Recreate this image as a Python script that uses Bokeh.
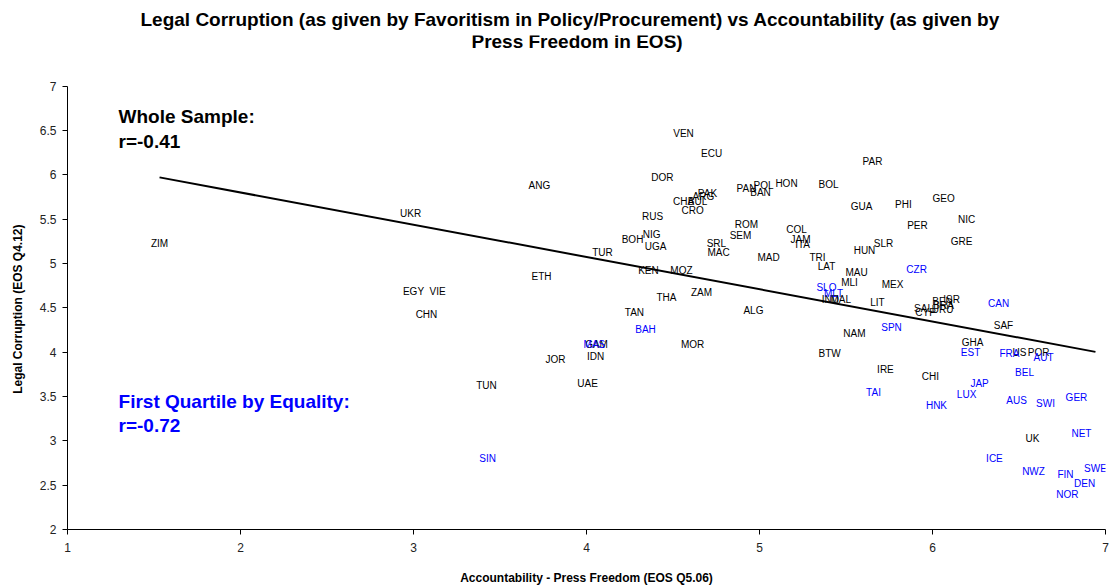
import numpy as np
from bokeh.plotting import figure
from bokeh.models import ColumnDataSource, Label, FixedTicker
from bokeh.core.properties import value
from bokeh.embed import file_html
from bokeh.resources import INLINE

# Black labels (whole sample)
codes_black = ["VEN", "ECU", "DOR", "ANG", "PAR", "HON", "BOL", "POL", "PAN", "BAN",
               "PAK", "ARG", "CHA", "BUL", "CRO", "GEO", "PHI", "GUA", "RUS", "NIC",
               "ROM", "PER", "COL", "NIG", "SEM", "UKR", "ZIM", "JAM", "ITA", "SRL",
               "BOH", "UGA", "GRE", "SLR", "HUN", "MAC", "TUR", "MAD", "TRI", "LAT",
               "KEN", "MOZ", "MAU", "ETH", "MLI", "MEX", "ZAM", "EGY", "VIE", "THA",
               "ALG", "TAN", "CHN", "IND", "MAL", "LIT", "SAL", "CYP", "ISR", "BEN",
               "BRA", "URU", "SAF", "NAM", "GHA", "GAM", "MOR", "US", "POR", "BTW",
               "IDN", "JOR", "IRE", "CHI", "TUN", "UAE", "UK"]
press_black = [4.561, 4.723, 4.439, 3.728, 5.653, 5.156, 5.399, 5.023, 4.925, 5.006,
               4.699, 4.676, 4.561, 4.642, 4.613, 6.064, 5.832, 5.590, 4.382, 6.197,
               4.925, 5.913, 5.214, 4.376, 4.890, 2.983, 1.532, 5.237, 5.249, 4.751,
               4.266, 4.399, 6.168, 5.717, 5.607, 4.763, 4.092, 5.052, 5.335, 5.387,
               4.358, 4.549, 5.561, 3.740, 5.520, 5.769, 4.665, 3.000, 3.139, 4.462,
               4.965, 4.277, 3.075, 5.410, 5.470, 5.682, 5.948, 5.960, 6.110, 6.058,
               6.064, 6.058, 6.410, 5.549, 6.231, 4.058, 4.613, 6.503, 6.613, 5.405,
               4.052, 3.821, 5.728, 5.988, 3.422, 4.006, 6.578]
corr_black = [6.471, 6.245, 5.975, 5.885, 6.155, 5.908, 5.896, 5.885, 5.851, 5.806,
              5.795, 5.761, 5.705, 5.705, 5.604, 5.739, 5.671, 5.649, 5.536, 5.502,
              5.446, 5.435, 5.390, 5.333, 5.322, 5.570, 5.232, 5.277, 5.221, 5.232,
              5.277, 5.198, 5.255, 5.232, 5.153, 5.131, 5.131, 5.074, 5.074, 4.973,
              4.928, 4.917, 4.905, 4.860, 4.782, 4.770, 4.669, 4.680, 4.680, 4.613,
              4.466, 4.444, 4.421, 4.590, 4.590, 4.556, 4.489, 4.444, 4.590, 4.570,
              4.530, 4.480, 4.297, 4.207, 4.106, 4.083, 4.083, 3.993, 3.993, 3.982,
              3.948, 3.914, 3.802, 3.723, 3.622, 3.644, 3.025]

# Blue labels (first quartile by equality)
codes_blue = ["CZR", "SLO", "MLT", "CAN", "SPN", "BAH", "MAS", "EST", "FRA", "AUT",
              "BEL", "JAP", "LUX", "TAI", "HNK", "AUS", "SWI", "GER", "NET", "ICE",
              "SIN", "NWZ", "FIN", "SWE", "DEN", "NOR"]
press_blue = [5.908, 5.387, 5.428, 6.382, 5.763, 4.341, 4.046, 6.220, 6.445, 6.642,
              6.532, 6.272, 6.197, 5.659, 6.023, 6.486, 6.653, 6.832, 6.861, 6.358,
              3.428, 6.584, 6.769, 6.942, 6.879, 6.780]
corr_blue = [4.939, 4.725, 4.658, 4.545, 4.275, 4.252, 4.083, 3.993, 3.982, 3.937,
             3.768, 3.644, 3.520, 3.543, 3.396, 3.453, 3.419, 3.486, 3.081, 2.800,
             2.800, 2.653, 2.619, 2.687, 2.518, 2.394]

x_ticks = [1, 2, 3, 4, 5, 6, 7]
y_ticks = [2, 2.5, 3, 3.5, 4, 4.5, 5, 5.5, 6, 6.5, 7]

title_line1 = "Legal Corruption (as given by Favoritism in Policy/Procurement) vs Accountability (as given by"
title_line2 = "Press Freedom in EOS)"

FONT = "Liberation Sans"
BLUE = "#0000ff"

# frame extends above y=7 to leave room for the second title line (axis bounded to 2..7)
p = figure(width=1112, height=588, output_backend="svg", toolbar_location=None,
           x_range=(1, 7), y_range=(2, 7.574),
           min_border_left=67, min_border_right=7, min_border_top=0, min_border_bottom=59)

p.title.text = title_line1
p.title.align = "left"
p.title.offset = 73
p.title.text_font = FONT
p.title.text_font_size = "19px"
p.title.text_font_style = "bold"
p.title.text_color = "#000000"
p.title.standoff = 12

p.add_layout(Label(x=3.335, y=7.507, text=title_line2, text_font=FONT, text_font_size="19px",
                   text_font_style="bold", text_color="#000000", text_baseline="middle",
                   text_align="left"))

p.outline_line_color = None
p.xgrid.visible = False
p.ygrid.visible = False
p.background_fill_color = "white"
p.border_fill_color = "white"

for ax in (p.xaxis[0], p.yaxis[0]):
    ax.axis_line_color = "#000000"
    ax.major_tick_line_color = "#000000"
    ax.minor_tick_line_color = None
    ax.major_tick_in = 0
    ax.major_tick_out = 5
    ax.major_label_text_font = FONT
    ax.major_label_text_font_size = "12px"
    ax.major_label_text_color = "#222222"
    ax.axis_label_text_font = FONT
    ax.axis_label_text_font_size = "12px"
    ax.axis_label_text_font_style = "bold"
    ax.axis_label_text_color = "#000000"

p.yaxis.bounds = (2, 7)
p.xaxis.ticker = FixedTicker(ticks=x_ticks)
p.yaxis.ticker = FixedTicker(ticks=y_ticks)
p.xaxis.major_label_overrides = {t: str(t) for t in x_ticks}
p.yaxis.major_label_overrides = {t: (str(int(t)) if float(t).is_integer() else str(t)) for t in y_ticks}
p.xaxis.axis_label = "Accountability - Press Freedom (EOS Q5.06)"
# trailing no-break spaces keep the label centred on the 2..7 part of the axis
p.yaxis.axis_label = "Legal Corruption (EOS Q4.12)" + "\u00a0" * 16
p.xaxis.major_label_standoff = 8
p.xaxis.axis_label_standoff = 16
p.yaxis.major_label_standoff = 6
p.yaxis.axis_label_standoff = 12

# Trend line from least squares fit over the whole sample
all_x = np.array(press_black + press_blue)
all_y = np.array(corr_black + corr_blue)
slope, intercept = np.polyfit(all_x, all_y, 1)
lx = np.array([all_x.min(), all_x.max()])
p.line(lx, slope * lx + intercept, line_color="#000000", line_width=2)

src_b = ColumnDataSource(dict(x=press_black, y=corr_black, t=codes_black))
src_u = ColumnDataSource(dict(x=press_blue, y=corr_blue, t=codes_blue))
p.text(x="x", y="y", text="t", source=src_b, text_align="center", text_baseline="middle",
       text_font=value(FONT), text_font_size="10px", text_color="#000000")
p.text(x="x", y="y", text="t", source=src_u, text_align="center", text_baseline="middle",
       text_font=value(FONT), text_font_size="10px", text_color=BLUE)

# Annotations
ann = dict(text_font=FONT, text_font_size="19px", text_font_style="bold", text_baseline="middle")
p.add_layout(Label(x=1.295, y=6.662, text="Whole Sample:", text_color="#000000", **ann))
p.add_layout(Label(x=1.295, y=6.381, text="r=-0.41", text_color="#000000", **ann))
p.add_layout(Label(x=1.295, y=3.441, text="First Quartile by Equality:", text_color=BLUE, **ann))
p.add_layout(Label(x=1.295, y=3.171, text="r=-0.72", text_color=BLUE, **ann))

open("out.html", "w").write(file_html(p, INLINE))
